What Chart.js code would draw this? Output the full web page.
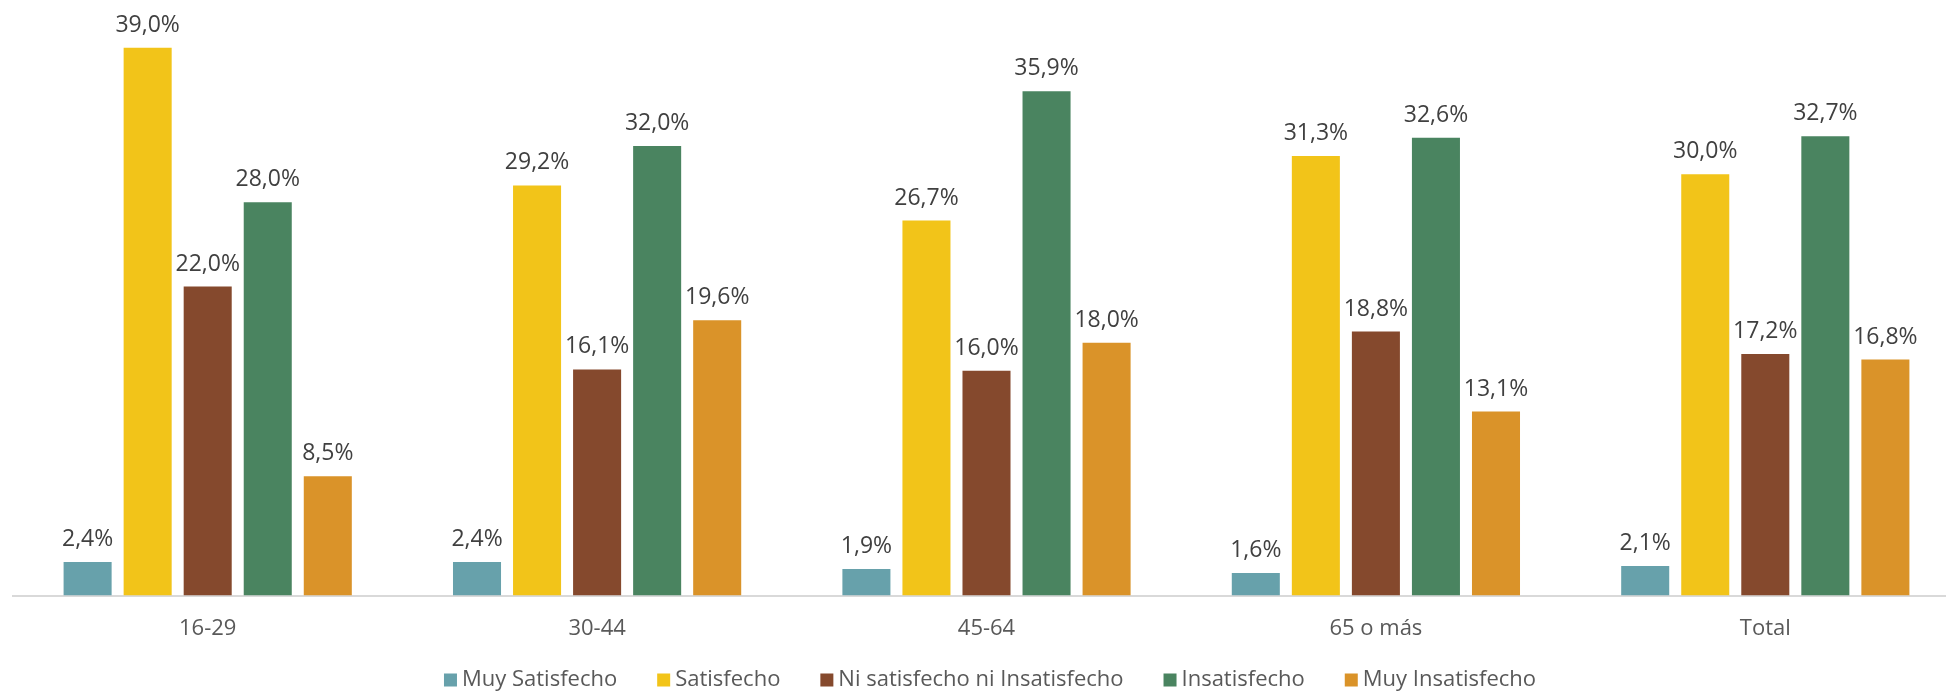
<!DOCTYPE html>
<html lang="es">
<head>
<meta charset="utf-8">
<title>Satisfacción por edad</title>
<script src="https://cdn.jsdelivr.net/npm/chart.js@4/dist/chart.umd.min.js"></script>
<style>
    html, body { margin: 0; padding: 0; background: #fff; overflow: hidden; }
    #wrap { position: relative; width: 1960px; height: 691px; }
</style>
</head>
<body>
<div id="wrap"><canvas id="satChart"></canvas></div>
<script>
// Chart data
const categories = ['16-29', '30-44', '45-64', '65 o más', 'Total'];
const seriesNames = ['Muy Satisfecho', 'Satisfecho', 'Ni satisfecho ni Insatisfecho', 'Insatisfecho', 'Muy Insatisfecho'];
const muySatisfecho = [2.4, 2.4, 1.9, 1.6, 2.1];
const satisfecho = [39.0, 29.2, 26.7, 31.3, 30.0];
const niNi = [22.0, 16.1, 16.0, 18.8, 17.2];
const insatisfecho = [28.0, 32.0, 35.9, 32.6, 32.7];
const muyInsatisfecho = [8.5, 19.6, 18.0, 13.1, 16.8];
const seriesColors = ['#67a1ab', '#f2c419', '#85492d', '#4a8460', '#da9329'];

const FONT = '"Open Sans", "Liberation Sans", sans-serif';

function fmtPct(v) {
    return v.toFixed(1).replace('.', ',') + '%';
}

// Value labels above each bar
const barLabels = {
    id: 'barLabels',
    afterDatasetsDraw(chart) {
        const ctx = chart.ctx;
        ctx.save();
        ctx.font = '23px ' + FONT;
        ctx.fillStyle = '#404040';
        ctx.textAlign = 'center';
        ctx.textBaseline = 'alphabetic';
        chart.data.datasets.forEach((ds, i) => {
            const meta = chart.getDatasetMeta(i);
            meta.data.forEach((bar, j) => {
                ctx.fillText(fmtPct(ds.data[j]), bar.x, bar.y - 16);
            });
        });
        ctx.restore();
    }
};

// Legend drawn at the bottom, spaced like the original
const bottomLegend = {
    id: 'bottomLegend',
    afterDraw(chart) {
        const ctx = chart.ctx;
        const box = 13, boxGap = 5, itemGap = 40;
        const centerX = 990, centerY = 680;
        ctx.save();
        ctx.font = '22px ' + FONT;
        const widths = chart.data.datasets.map(ds => box + boxGap + ctx.measureText(ds.label).width);
        const total = widths.reduce((a, b) => a + b, 0) + itemGap * (widths.length - 1);
        let x = centerX - total / 2;
        ctx.textBaseline = 'middle';
        ctx.textAlign = 'left';
        chart.data.datasets.forEach((ds, i) => {
            ctx.fillStyle = ds.backgroundColor;
            ctx.fillRect(x, centerY - box / 2, box, box);
            ctx.fillStyle = '#595959';
            ctx.fillText(ds.label, x + box + boxGap, centerY);
            x += widths[i] + itemGap;
        });
        ctx.restore();
    }
};

document.addEventListener('DOMContentLoaded', function() {
    const values = [muySatisfecho, satisfecho, niNi, insatisfecho, muyInsatisfecho];
    const ctx = document.getElementById('satChart');
    new Chart(ctx, {
        type: 'bar',
        data: {
            labels: categories,
            datasets: seriesNames.map((name, i) => ({
                label: name,
                data: values[i],
                backgroundColor: seriesColors[i],
                borderWidth: 0,
                categoryPercentage: 0.771,
                barPercentage: 0.8
            }))
        },
        options: {
            responsive: true,
            maintainAspectRatio: false,
            animation: false,
            layout: {
                padding: { left: 13, right: 0, top: 0, bottom: 29 }
            },
            plugins: {
                legend: { display: false },
                tooltip: { enabled: false }
            },
            scales: {
                x: {
                    grid: { display: false, drawTicks: false },
                    border: { display: true, color: '#d9d9d9', width: 2 },
                    ticks: {
                        color: '#595959',
                        padding: 20,
                        font: { family: FONT, size: 22 }
                    }
                },
                y: {
                    display: false,
                    min: 0,
                    max: 42.4
                }
            }
        },
        plugins: [barLabels, bottomLegend]
    });
});
</script>
</body>
</html>
